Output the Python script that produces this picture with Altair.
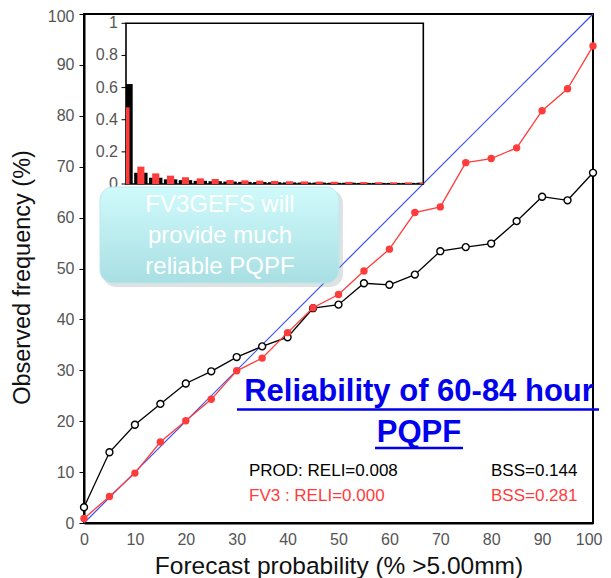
import altair as alt
import pandas as pd

# ---- data ----
prob = [0, 5, 10, 15, 20, 25, 30, 35, 40, 45, 50, 55, 60, 65, 70, 75, 80, 85, 90, 95, 100]
prod_obs = [3.1, 13.9, 19.3, 23.4, 27.4, 29.8, 32.6, 34.7, 36.5, 42.2, 42.9, 47.1, 46.8,
            48.8, 53.4, 54.2, 54.9, 59.3, 64.1, 63.4, 68.8]
fv3_obs = [0.9, 5.2, 9.8, 15.9, 20.1, 24.3, 29.9, 32.4, 37.4, 42.3, 44.9, 49.5, 53.8,
           61.0, 62.1, 70.8, 71.6, 73.7, 81.0, 85.3, 93.7]
prod_freq = [0.622, 0.070, 0.039, 0.029, 0.024, 0.020, 0.017, 0.015, 0.013, 0.012, 0.011,
             0.010, 0.009, 0.009, 0.008, 0.008, 0.007, 0.007, 0.007, 0.007, 0.008]
fv3_freq = [0.477, 0.108, 0.066, 0.052, 0.042, 0.035, 0.031, 0.025, 0.023, 0.021, 0.019,
            0.017, 0.016, 0.015, 0.014, 0.013, 0.012, 0.011, 0.010, 0.010, 0.008]
diag = [0, 100]
axis_ticks = [0, 10, 20, 30, 40, 50, 60, 70, 80, 90, 100]
inset_ticks = [0, 0.2, 0.4, 0.6, 0.8, 1]
inset_tick_labels = ["0", "0.2", "0.4", "0.6", "0.8", "1"]
title_lines = ["Reliability of 60-84 hour", "PQPF"]
box_lines = ["FV3GEFS will", "provide much", "reliable PQPF"]
prod_stats = ["PROD: RELI=0.008", "BSS=0.144"]
fv3_stats = ["FV3 : RELI=0.000", "BSS=0.281"]

main_df = pd.DataFrame({"prob": prob, "prod": prod_obs, "fv3": fv3_obs})
diag_df = pd.DataFrame({"prob": diag, "obs": diag})
inset_df = pd.DataFrame({"prob": prob, "prod": prod_freq, "fv3": fv3_freq})
inset_tick_df = pd.DataFrame({"v": inset_ticks, "lab": inset_tick_labels})
one = pd.DataFrame({"k": [0]})

FONT = "Liberation Sans"
BLACK = "#000000"
RED = "#ff3c3c"
BLUE = "#3a50ee"
GREY = "#555555"

x_scale = alt.Scale(domain=[0, 100], nice=False, zero=False)
y_scale = alt.Scale(domain=[0, 100], nice=False, zero=False)


def x_enc():
    return alt.X("prob:Q", scale=x_scale,
                 axis=alt.Axis(values=axis_ticks, title="Forecast probability (% >5.00mm)",
                               ticks=False, labelPadding=8, grid=False, labelFlush=False,
                               labelAlign={"condition": {"test": "datum.value == 100",
                                                         "value": "right"},
                                           "value": "center"},
                               labelOffset={"condition": {"test": "datum.value == 100",
                                                          "value": 9},
                                            "value": 0},
                               domainColor=BLACK, domainWidth=2,
                               labelFont=FONT, labelFontSize=16, labelColor=GREY,
                               titleFont=FONT, titleFontSize=24.5, titleFontWeight="normal",
                               titleColor="#111111", titleY=43, titleBaseline="middle"))


def y_enc(field):
    return alt.Y(field + ":Q", scale=y_scale,
                 axis=alt.Axis(values=axis_ticks, title="Observed frequency (%)",
                               tickSize=5, tickColor=BLACK, tickWidth=1,
                               labelPadding=5, grid=False, labelFlush=False,
                               labelOffset={"condition": {"test": "datum.value == 100",
                                                          "value": 2},
                                            "value": 0},
                               domainColor=BLACK, domainWidth=2,
                               labelFont=FONT, labelFontSize=16, labelColor=GREY,
                               titleFont=FONT, titleFontSize=23.5, titleFontWeight="normal",
                               titleColor="#111111", titleX=-62, titleY=263,
                               titleAlign="center", titleBaseline="middle"))


diag_line = alt.Chart(diag_df).mark_line(color=BLUE, strokeWidth=1.2).encode(
    x=x_enc(), y=y_enc("obs"))
prod_line = alt.Chart(main_df).mark_line(color=BLACK, strokeWidth=1.3).encode(
    x=x_enc(), y=y_enc("prod"))
prod_pts = alt.Chart(main_df).mark_point(shape="circle", filled=True, fill="white",
                                         stroke=BLACK, strokeWidth=1.4, size=48,
                                         opacity=1).encode(x=x_enc(), y=y_enc("prod"))
fv3_line = alt.Chart(main_df).mark_line(color=RED, strokeWidth=1.3).encode(
    x=x_enc(), y=y_enc("fv3"))
fv3_pts = alt.Chart(main_df).mark_circle(color=RED, size=55, opacity=1).encode(
    x=x_enc(), y=y_enc("fv3"))

main = alt.layer(diag_line, prod_line, prod_pts, fv3_line, fv3_pts)

# ---- inset histogram (own scales placed in the upper-left part) ----
ix_scale = alt.Scale(domain=[0, 100], range=[42, 339.3], clamp=True, nice=False, zero=False)
iy_scale = alt.Scale(domain=[0, 1], range=[170, 9.3], nice=False, zero=False)

inset_box = alt.Chart(one).mark_rect(fillOpacity=0, stroke=BLACK, strokeWidth=1.6).encode(
    x=alt.XDatum(0, scale=ix_scale, axis=None),
    x2=alt.X2Datum(100),
    y=alt.YDatum(0, scale=iy_scale, axis=None),
    y2=alt.Y2Datum(1),
)
inset_ticks_marks = alt.Chart(inset_tick_df).mark_rule(color=BLACK, strokeWidth=1).encode(
    x=alt.value(37.5), x2=alt.value(42),
    y=alt.Y("v:Q", scale=iy_scale, axis=None),
)
inset_tick_text = alt.Chart(inset_tick_df).mark_text(
    font=FONT, fontSize=16, color=GREY, align="right", baseline="middle"
).encode(
    x=alt.value(34),
    y=alt.Y("v:Q", scale=iy_scale, axis=None),
    text="lab:N",
)
prod_bars = alt.Chart(inset_df).transform_calculate(
    lo="datum.prob - 2.25", hi="datum.prob + 2.25"
).mark_rect(color=BLACK).encode(
    x=alt.X("lo:Q", scale=ix_scale, axis=None),
    x2="hi:Q",
    y=alt.Y("prod:Q", scale=iy_scale, axis=None),
    y2=alt.Y2Datum(0),
)
fv3_bars = alt.Chart(inset_df).transform_calculate(
    lo="datum.prob - 1.2", hi="datum.prob + 1.2"
).mark_rect(color=RED).encode(
    x=alt.X("lo:Q", scale=ix_scale, axis=None),
    x2="hi:Q",
    y=alt.Y("fv3:Q", scale=iy_scale, axis=None),
    y2=alt.Y2Datum(0),
)
inset = alt.layer(inset_box, inset_ticks_marks, inset_tick_text, prod_bars, fv3_bars)

# ---- annotations ----
shadow = alt.Chart(one).mark_rect(fill="#7a8a8c", opacity=0.25, cornerRadius=13).encode(
    x=alt.value(19), x2=alt.value(259), y=alt.value(176), y2=alt.value(273))
box = alt.Chart(one).mark_rect(
    cornerRadius=13,
    fill=alt.Gradient(gradient="linear",
                      stops=[alt.GradientStop(color="#d0fafb", offset=0),
                             alt.GradientStop(color="#a8dfe3", offset=1)],
                      x1=0, x2=0, y1=0, y2=1),
    stroke="#bfe6ea", strokeWidth=1,
).encode(x=alt.value(16), x2=alt.value(255), y=alt.value(173), y2=alt.value(269))
box_text = alt.Chart(one).mark_text(text=box_lines, font=FONT, fontSize=24, color="white",
                                    align="center", baseline="middle", lineHeight=31).encode(
    x=alt.value(136), y=alt.value(191))

t1 = alt.Chart(one).mark_text(text=title_lines[0], font=FONT, fontSize=31, fontWeight="bold",
                              color="#0000ee", align="center", baseline="alphabetic").encode(
    x=alt.value(335), y=alt.value(387))
t2 = alt.Chart(one).mark_text(text=title_lines[1], font=FONT, fontSize=31, fontWeight="bold",
                              color="#0000ee", align="center", baseline="alphabetic").encode(
    x=alt.value(335), y=alt.value(428))
u1 = alt.Chart(one).mark_rule(color="#0000ee", strokeWidth=2.5).encode(
    x=alt.value(153), x2=alt.value(515), y=alt.value(395.5))
u2 = alt.Chart(one).mark_rule(color="#0000ee", strokeWidth=2.5).encode(
    x=alt.value(291), x2=alt.value(379), y=alt.value(434))

s1 = alt.Chart(one).mark_text(text=prod_stats[0], font=FONT, fontSize=17, color=BLACK,
                              align="left", baseline="alphabetic").encode(
    x=alt.value(165), y=alt.value(461.5))
s2 = alt.Chart(one).mark_text(text=prod_stats[1], font=FONT, fontSize=17, color=BLACK,
                              align="left", baseline="alphabetic").encode(
    x=alt.value(407), y=alt.value(461.5))
s3 = alt.Chart(one).mark_text(text=fv3_stats[0], font=FONT, fontSize=17, color=RED,
                              align="left", baseline="alphabetic").encode(
    x=alt.value(165), y=alt.value(486.5))
s4 = alt.Chart(one).mark_text(text=fv3_stats[1], font=FONT, fontSize=17, color=RED,
                              align="left", baseline="alphabetic").encode(
    x=alt.value(407), y=alt.value(486.5))

chart = alt.layer(
    main, inset, shadow, box, box_text, t1, t2, u1, u2, s1, s2, s3, s4
).resolve_scale(x="independent", y="independent").properties(
    width=509, height=509,
    autosize=alt.AutoSizeParams(type="none"),
    padding={"left": 76, "top": 6, "right": 10, "bottom": 56},
    background="white",
).configure_view(stroke=BLACK, strokeWidth=2)

chart.save("out.html", embed_options={"renderer": "svg", "actions": False})
